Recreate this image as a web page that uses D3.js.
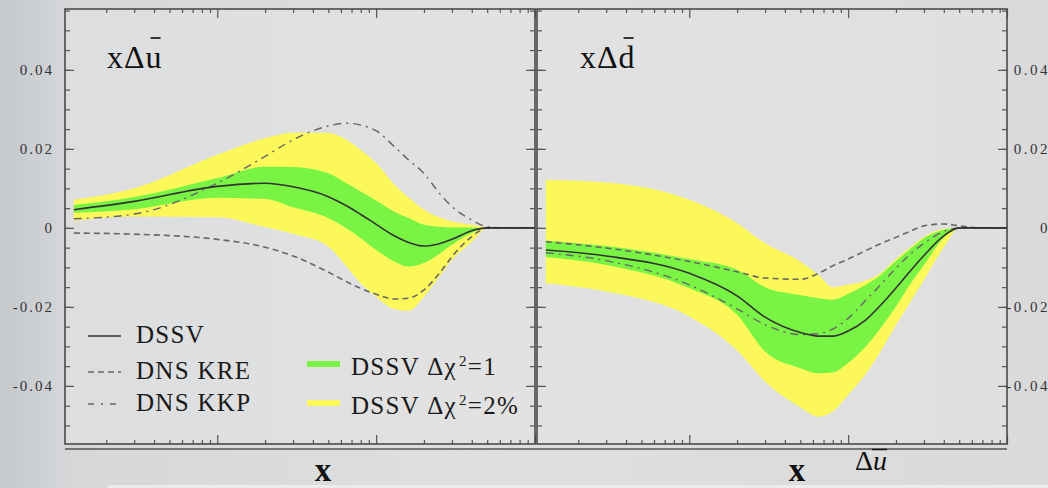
<!DOCTYPE html>
<html>
<head>
<meta charset="utf-8">
<script src="https://cdn.jsdelivr.net/npm/d3@7"></script>
<style>
body { margin: 0; background: #dcdcdc; }
svg { display: block; }
</style>
</head>
<body>
<main></main>
<script>
// x values (log axis) shared by every series
var xs = [0.00125, 0.003, 0.01, 0.02, 0.03, 0.05, 0.065, 0.08, 0.1, 0.13, 0.16, 0.2, 0.25, 0.3, 0.4, 0.5, 0.7, 1.0];

// x Delta u-bar panel
var dssvU    = [0.0046, 0.0067, 0.0105, 0.0113, 0.0104, 0.0079, 0.0056, 0.0034, 0.0009, -0.0020, -0.0037, -0.0046, -0.0040, -0.0029, -0.0007, 0, 0, 0];
var greenHiU = [0.0058, 0.0078, 0.0126, 0.0155, 0.0154, 0.0138, 0.0113, 0.0092, 0.0069, 0.0041, 0.0025, 0.0008, 0.0003, 0.0001, 0.0001, 0, 0, 0];
var greenLoU = [0.0038, 0.0047, 0.0076, 0.0073, 0.0052, 0.0025, -0.0001, -0.0026, -0.0056, -0.0085, -0.0098, -0.0089, -0.0066, -0.0043, -0.0013, 0, 0, 0];
var yellowHiU = [0.0071, 0.0100, 0.0185, 0.0227, 0.0241, 0.0240, 0.0223, 0.0197, 0.0164, 0.0110, 0.0077, 0.0046, 0.0027, 0.0016, 0.0008, 0.0002, 0, 0];
var yellowLoU = [0.0018, 0.0029, 0.0027, 0.0002, -0.0015, -0.0047, -0.0098, -0.0140, -0.0174, -0.0205, -0.0210, -0.0174, -0.0123, -0.0081, -0.0035, -0.0001, 0, 0];
var kreU     = [-0.0013, -0.0016, -0.0029, -0.0049, -0.0071, -0.0112, -0.0136, -0.0153, -0.0168, -0.0180, -0.0178, -0.0157, -0.0115, -0.0073, -0.0022, 0, 0, 0];
var kkpU     = [0.0023, 0.0035, 0.0113, 0.0181, 0.0223, 0.0258, 0.0265, 0.0260, 0.0246, 0.0206, 0.0172, 0.0138, 0.0088, 0.0054, 0.0020, 0.0003, 0, 0];

// x Delta d-bar panel
var dssvD    = [-0.0056, -0.0071, -0.0115, -0.0172, -0.0226, -0.0265, -0.0274, -0.0274, -0.0261, -0.0232, -0.0196, -0.0152, -0.0106, -0.0070, -0.0020, 0, 0, 0];
var greenHiD = [-0.0032, -0.0046, -0.0079, -0.0106, -0.0150, -0.0170, -0.0178, -0.0182, -0.0167, -0.0143, -0.0119, -0.0084, -0.0051, -0.0026, -0.0005, 0, 0, 0];
var greenLoD = [-0.0074, -0.0094, -0.0153, -0.0220, -0.0313, -0.0355, -0.0368, -0.0366, -0.0342, -0.0299, -0.0254, -0.0199, -0.0138, -0.0094, -0.0025, 0, 0, 0];
var yellowHiD = [0.0121, 0.0115, 0.0071, 0.0012, -0.0039, -0.0085, -0.0119, -0.0150, -0.0144, -0.0133, -0.0115, -0.0079, -0.0047, -0.0023, -0.0003, 0, 0, 0];
var yellowLoD = [-0.0140, -0.0161, -0.0224, -0.0310, -0.0389, -0.0454, -0.0478, -0.0465, -0.0423, -0.0368, -0.0313, -0.0246, -0.0184, -0.0132, -0.0049, 0, 0, 0];
var kreD     = [-0.0035, -0.0051, -0.0085, -0.0111, -0.0127, -0.0130, -0.0115, -0.0096, -0.0079, -0.0057, -0.0040, -0.0024, -0.0007, 0.0005, 0.0010, 0.0005, 0, 0];
var kkpD     = [-0.0063, -0.0083, -0.0144, -0.0205, -0.0245, -0.0270, -0.0268, -0.0256, -0.0229, -0.0182, -0.0144, -0.0102, -0.0064, -0.0039, -0.0009, 0, 0, 0];

var yLabels = [-0.04, -0.02, 0, 0.02, 0.04];
var legendLines = ["DSSV", "DNS KRE", "DNS KKP"];
var legendBands = ["=1", "=2%"];

var W = 1048, H = 488;
var panelW = 470, plotTop = 9, plotBottom = 444;
var yellowCol = "#fdf85a", greenCol = "#7af444";
var serif = "'Liberation Serif', 'DejaVu Serif', serif";

var svg = d3.select("main").append("svg")
    .attr("width", W)
    .attr("height", H);

var defs = svg.append("defs");
var bg = defs.append("linearGradient").attr("id", "bg");
bg.append("stop").attr("offset", "0").attr("stop-color", "#c6c9cc");
bg.append("stop").attr("offset", "0.07").attr("stop-color", "#d5d7d9");
bg.append("stop").attr("offset", "0.45").attr("stop-color", "#dfdfdf");
bg.append("stop").attr("offset", "1").attr("stop-color", "#dadada");

svg.append("rect").attr("width", W).attr("height", H).attr("fill", "url(#bg)");
svg.append("rect").attr("x", 108).attr("y", 485).attr("width", W - 108).attr("height", 3).attr("fill", "#ececec");

var x = d3.scaleLog().domain([0.0011, 1]).range([0, panelW]);
var y = d3.scaleLinear().domain([-0.0547, 0.0554]).range([plotBottom, plotTop]);

var xMajor = [0.01, 0.1, 1];
var xMinor = x.ticks().filter(function(v) { return xMajor.indexOf(v) < 0; });
var yMinor = d3.range(-0.05, 0.0551, 0.005).map(function(v) { return +v.toFixed(3); });

function rows(lo, hi) {
  return xs.map(function(v, i) { return {x: v, lo: lo[i], hi: hi[i]}; });
}
function pts(vals) {
  return xs.map(function(v, i) { return {x: v, v: vals[i]}; });
}

var area = d3.area()
    .x(function(d) { return x(d.x); })
    .y0(function(d) { return y(d.lo); })
    .y1(function(d) { return y(d.hi); })
    .curve(d3.curveMonotoneX);

var line = d3.line()
    .x(function(d) { return x(d.x); })
    .y(function(d) { return y(d.v); })
    .curve(d3.curveMonotoneX);

var panels = [
  {left: 65, yel: rows(yellowLoU, yellowHiU), grn: rows(greenLoU, greenHiU), dssv: dssvU, kre: kreU, kkp: kkpU, name: "u", tx: 42},
  {left: 537, yel: rows(yellowLoD, yellowHiD), grn: rows(greenLoD, greenHiD), dssv: dssvD, kre: kreD, kkp: kkpD, name: "d", tx: 43}
];

var styles = {
  dssv: {stroke: "#333", width: 1.6, dash: null},
  kre:  {stroke: "#666", width: 1.6, dash: "6,4"},
  kkp:  {stroke: "#666", width: 1.4, dash: "8,5,2,5"}
};

panels.forEach(function(p, pi) {
  var g = svg.append("g").attr("transform", "translate(" + p.left + ",0)");

  g.append("rect")
      .attr("x", 0).attr("y", plotTop)
      .attr("width", panelW).attr("height", plotBottom - plotTop)
      .attr("fill", "#e3e3e3").attr("opacity", 0.55);

  g.append("path").datum(p.yel).attr("d", area).attr("fill", yellowCol);
  g.append("path").datum(p.grn).attr("d", area).attr("fill", greenCol);

  ["kre", "kkp", "dssv"].forEach(function(k) {
    var s = styles[k];
    g.append("path").datum(pts(p[k]))
        .attr("d", line)
        .attr("fill", "none")
        .attr("stroke", s.stroke)
        .attr("stroke-width", s.width)
        .attr("stroke-dasharray", s.dash);
  });

  // ticks
  function tickAxis(axis, tr, vals, size) {
    g.append("g")
        .attr("transform", tr)
        .call(axis.tickValues(vals).tickSize(size).tickFormat(""))
        .call(function(a) { a.select(".domain").remove(); })
        .selectAll("line").attr("stroke", "#555").attr("stroke-width", 1.2);
  }
  tickAxis(d3.axisTop(x), "translate(0," + plotTop + ")", xMinor, -4);
  tickAxis(d3.axisTop(x), "translate(0," + plotTop + ")", xMajor, -9);
  tickAxis(d3.axisBottom(x), "translate(0," + plotBottom + ")", xMinor, -4);
  tickAxis(d3.axisBottom(x), "translate(0," + plotBottom + ")", xMajor, -9);
  tickAxis(d3.axisLeft(y), "translate(0,0)", yMinor, -5);
  tickAxis(d3.axisLeft(y), "translate(0,0)", yLabels, -9);
  tickAxis(d3.axisRight(y), "translate(" + panelW + ",0)", yMinor, -5);
  tickAxis(d3.axisRight(y), "translate(" + panelW + ",0)", yLabels, -9);

  g.append("rect")
      .attr("x", 0).attr("y", plotTop)
      .attr("width", panelW).attr("height", plotBottom - plotTop)
      .attr("fill", "none").attr("stroke", "#4a4a4a").attr("stroke-width", 1.6);

  // zero line to the right edge
  g.append("line")
      .attr("x1", x(0.5)).attr("x2", panelW)
      .attr("y1", y(0)).attr("y2", y(0))
      .attr("stroke", "#333").attr("stroke-width", 1.4);

  // panel title
  var t = g.append("text")
      .attr("x", p.tx).attr("y", 68)
      .attr("font-family", serif).attr("font-size", 32)
      .attr("letter-spacing", "1px")
      .attr("fill", "#111");
  t.append("tspan").text("x\u0394" + p.name);
  var tb = t.node().getBBox();
  g.append("line")
      .attr("x1", tb.x + tb.width - 12).attr("x2", tb.x + tb.width - 2)
      .attr("y1", 38).attr("y2", 38)
      .attr("stroke", "#222").attr("stroke-width", 1.8);

  // axis label
  g.append("text")
      .attr("x", pi === 0 ? 258 : 260).attr("y", 481)
      .attr("text-anchor", "middle")
      .attr("font-family", serif).attr("font-weight", "bold").attr("font-size", 33)
      .attr("fill", "#111")
      .text("x");
});

// second bottom rule
svg.append("line")
    .attr("x1", 65).attr("x2", 537 + panelW)
    .attr("y1", 449).attr("y2", 449)
    .attr("stroke", "#555").attr("stroke-width", 1.6);

// y tick labels
svg.append("g").selectAll("text").data(yLabels).enter().append("text")
    .attr("x", 54).attr("y", function(d) { return y(d); })
    .attr("dy", "0.35em")
    .attr("text-anchor", "end")
    .attr("font-family", serif).attr("font-size", 15)
    .attr("letter-spacing", "2px")
    .attr("fill", "#333")
    .text(function(d) { return d === 0 ? "0" : d.toFixed(2); });

svg.append("g").selectAll("text").data(yLabels).enter().append("text")
    .attr("x", 1050).attr("y", function(d) { return y(d); })
    .attr("dy", "0.35em")
    .attr("text-anchor", "end")
    .attr("font-family", serif).attr("font-size", 15)
    .attr("letter-spacing", "2.5px")
    .attr("fill", "#333")
    .text(function(d) { return d === 0 ? "0" : d.toFixed(2); });

// legend: lines
var legY = [336, 372, 404];
var legKeys = ["dssv", "kre", "kkp"];
legendLines.forEach(function(name, i) {
  var s = styles[legKeys[i]];
  svg.append("line")
      .attr("x1", 88).attr("x2", 121)
      .attr("y1", legY[i]).attr("y2", legY[i])
      .attr("stroke", s.stroke).attr("stroke-width", s.width)
      .attr("stroke-dasharray", legKeys[i] === "kkp" ? "6,7,2,7" : s.dash);
  svg.append("text")
      .attr("x", 136).attr("y", legY[i] + 7)
      .attr("font-family", serif).attr("font-size", 25)
      .attr("letter-spacing", "1.3px")
      .attr("fill", "#1a1a1a")
      .text(name);
});

// legend: bands
var bandY = [364, 403];
var bandCol = [greenCol, yellowCol];
legendBands.forEach(function(tail, i) {
  svg.append("rect")
      .attr("x", 307).attr("y", bandY[i] - 3)
      .attr("width", 33).attr("height", 6)
      .attr("fill", bandCol[i]);
  var t = svg.append("text")
      .attr("x", 351).attr("y", bandY[i] + 11)
      .attr("font-family", serif).attr("font-size", 25)
      .attr("letter-spacing", "1.3px")
      .attr("fill", "#1a1a1a");
  t.append("tspan").text("DSSV \u0394\u03c7");
  t.append("tspan").attr("font-size", 15).attr("dy", -9).attr("dx", 2).text("2");
  t.append("tspan").attr("dy", 9).text(tail);
});

// stray label under right panel
var du = svg.append("text")
    .attr("x", 855).attr("y", 470)
    .attr("font-family", serif).attr("font-size", 28)
    .attr("fill", "#111");
du.append("tspan").text("\u0394");
du.append("tspan").attr("font-style", "italic").text("u");
var db = du.node().getBBox();
svg.append("line")
    .attr("x1", db.x + db.width - 15).attr("x2", db.x + db.width)
    .attr("y1", 449.5).attr("y2", 449.5)
    .attr("stroke", "#111").attr("stroke-width", 1.5);
</script>
</body>
</html>
